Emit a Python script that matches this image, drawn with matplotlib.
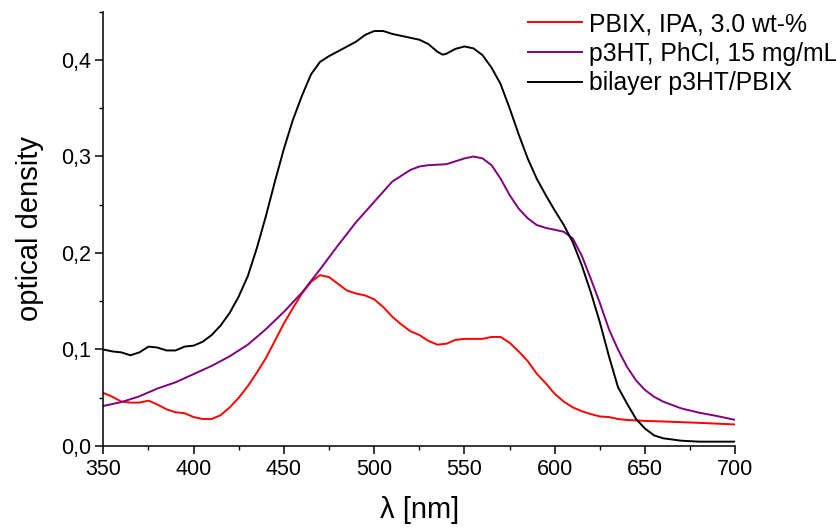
import matplotlib
matplotlib.use("Agg")
import matplotlib.pyplot as plt
from matplotlib.ticker import MultipleLocator, FuncFormatter

plt.rcParams['font.family'] = ['Liberation Sans', 'DejaVu Sans']

# wavelength grids [nm] and optical densities
wl_red = [350, 355, 360, 365, 370, 375, 380, 385, 390, 395, 400, 405, 410, 415, 420, 425,
          430, 435, 440, 445, 450, 455, 460, 465, 470, 475, 480, 485, 490, 495, 500, 505,
          510, 515, 520, 525, 530, 535, 540, 545, 550, 555, 560, 565, 570, 575, 580, 585,
          590, 595, 600, 605, 610, 615, 620, 625, 630, 635, 640, 650, 660, 680, 700]
od_pbix = [0.055, 0.051, 0.046, 0.045, 0.045, 0.047, 0.043, 0.038, 0.035, 0.034, 0.030, 0.028,
           0.028, 0.032, 0.040, 0.050, 0.062, 0.076, 0.091, 0.109, 0.127, 0.143, 0.158, 0.170,
           0.177, 0.175, 0.168, 0.161, 0.158, 0.156, 0.152, 0.144, 0.134, 0.126, 0.119, 0.115,
           0.109, 0.105, 0.106, 0.110, 0.111, 0.111, 0.111, 0.113, 0.113, 0.107, 0.098, 0.088,
           0.075, 0.065, 0.054, 0.046, 0.040, 0.036, 0.033, 0.0306, 0.030, 0.028, 0.027, 0.026,
           0.0254, 0.024, 0.0223]

wl_p3ht = [350, 360, 370, 380, 390, 400, 410, 420, 430, 440, 450, 460, 470, 480, 490, 500,
           510, 520, 525, 530, 540, 545, 550, 555, 560, 565, 570, 575, 580, 585, 590, 595,
           600, 605, 610, 615, 620, 625, 630, 635, 640, 645, 650, 655, 660, 670, 680, 690, 700]
od_p3ht = [0.0415, 0.0455, 0.0515, 0.0596, 0.066, 0.0745, 0.083, 0.093, 0.105, 0.121, 0.139,
           0.159, 0.183, 0.208, 0.232, 0.253, 0.274, 0.286, 0.2896, 0.291, 0.292, 0.295, 0.298,
           0.300, 0.298, 0.291, 0.277, 0.260, 0.246, 0.236, 0.229, 0.226, 0.224, 0.222, 0.215,
           0.197, 0.173, 0.148, 0.121, 0.100, 0.082, 0.068, 0.058, 0.051, 0.046, 0.039, 0.0345,
           0.031, 0.027]

wl_bi = [350, 355, 360, 365, 370, 375, 380, 385, 390, 395, 400, 405, 410, 415, 420, 425, 430,
         435, 440, 445, 450, 455, 460, 465, 470, 475, 480, 485, 490, 495, 500, 505, 510, 515,
         520, 525, 530, 535, 538, 540, 545, 550, 555, 560, 565, 570, 575, 580, 585, 590, 595,
         600, 605, 610, 615, 620, 625, 630, 635, 640, 645, 650, 655, 660, 670, 680, 700]
od_bi = [0.100, 0.098, 0.097, 0.094, 0.097, 0.103, 0.102, 0.099, 0.099, 0.103, 0.104, 0.108,
         0.115, 0.125, 0.138, 0.155, 0.176, 0.205, 0.238, 0.274, 0.308, 0.338, 0.363, 0.385,
         0.398, 0.404, 0.409, 0.414, 0.419, 0.426, 0.430, 0.430, 0.427, 0.425, 0.423, 0.421,
         0.4165, 0.4085, 0.4055, 0.4065, 0.4115, 0.414, 0.412, 0.405, 0.392, 0.375, 0.350,
         0.323, 0.298, 0.277, 0.260, 0.244, 0.229, 0.211, 0.187, 0.159, 0.128, 0.093, 0.061,
         0.044, 0.028, 0.018, 0.011, 0.008, 0.0055, 0.0045, 0.0045]

labels = ["PBIX, IPA, 3.0 wt-%", "p3HT, PhCl, 15 mg/mL", "bilayer p3HT/PBIX"]

fig = plt.figure(figsize=(8.36, 5.28), dpi=100)
ax = fig.add_axes([0.1236, 0.1553, 0.756, 0.8225])

ax.plot(wl_red, od_pbix, color="#ff0000", lw=1.4, label=labels[0])
ax.plot(wl_p3ht, od_p3ht, color="#800080", lw=1.4, label=labels[1])
ax.plot(wl_bi, od_bi, color="black", lw=1.4, label=labels[2])

ax.set_xlim(350, 700)
ax.set_ylim(0, 0.45)
ax.spines["top"].set_visible(False)
ax.spines["right"].set_visible(False)
for s in ("left", "bottom"):
    ax.spines[s].set_linewidth(1.1)

ax.xaxis.set_major_locator(MultipleLocator(50))
ax.xaxis.set_minor_locator(MultipleLocator(25))
ax.yaxis.set_major_locator(MultipleLocator(0.1))
ax.yaxis.set_minor_locator(MultipleLocator(0.05))
ax.yaxis.set_major_formatter(FuncFormatter(lambda v, p: f"{v:.1f}".replace(".", ",")))
ax.tick_params(which="major", direction="out", length=5.5, width=1.1, labelsize=15.5)
ax.tick_params(which="minor", direction="out", length=3, width=1.0)

ax.set_xlabel("λ [nm]", fontsize=21, labelpad=12)
ax.set_ylabel("optical density", fontsize=21, labelpad=12)

fig.legend(loc="upper left", bbox_to_anchor=(0.626, 0.9865), frameon=False, fontsize=17.8,
           handlelength=2.19, handletextpad=0.25, labelspacing=0.23, borderaxespad=0,
           borderpad=0.2)

fig.savefig("out.png", dpi=100)
